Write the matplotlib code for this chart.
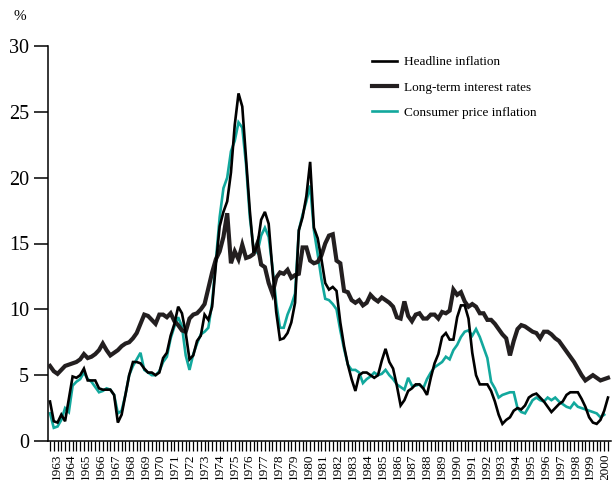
import matplotlib
matplotlib.use("Agg")
import matplotlib.pyplot as plt
import numpy as np

# Quarterly data, 1963Q1 .. 2000Q1
years = [str(y) for y in range(1963, 2001)]

long_term_rates = [
    5.7, 5.3, 5.1, 5.4, 5.7, 5.8, 5.9, 6.0, 6.2, 6.6, 6.3, 6.4, 6.6, 6.9, 7.4, 6.9,
    6.5, 6.7, 6.9, 7.2, 7.4, 7.5, 7.8, 8.2, 8.9, 9.6, 9.5, 9.2, 8.9, 9.6, 9.6, 9.4,
    9.7, 9.1, 8.8, 8.4, 8.3, 9.3, 9.6, 9.7, 10.0, 10.4, 11.6, 12.8, 13.8, 14.4, 15.5, 17.3,
    13.5, 14.4, 13.8, 14.9, 13.9, 14.0, 14.2, 15.0, 13.4, 13.2, 12.0, 11.2, 12.4, 12.8, 12.7, 13.0,
    12.4, 12.6, 12.7, 14.7, 14.7, 13.7, 13.5, 13.6, 14.1, 15.0, 15.6, 15.7, 13.7, 13.5, 11.4, 11.3,
    10.7, 10.5, 10.7, 10.3, 10.5, 11.1, 10.8, 10.6, 10.9, 10.7, 10.5, 10.2, 9.4, 9.3, 10.6, 9.5,
    9.1, 9.6, 9.7, 9.3, 9.3, 9.6, 9.6, 9.3, 9.8, 9.7, 9.9, 11.5, 11.1, 11.3, 10.6, 10.2,
    10.4, 10.2, 9.7, 9.7, 9.2, 9.2, 8.9, 8.5, 8.1, 7.8, 6.5, 7.6, 8.5, 8.8, 8.7, 8.5,
    8.3, 8.2, 7.8, 8.3, 8.3, 8.1, 7.8, 7.6, 7.2, 6.8, 6.4, 6.0, 5.5, 5.0, 4.6, 4.8,
    5.0, 4.8, 4.6, 4.7, 4.8,
]

headline_inflation = [
    3.0, 1.5, 1.4, 2.0, 1.5, 3.2, 4.9, 4.8, 5.0, 5.5, 4.6, 4.6, 4.6, 4.0, 3.9, 3.9,
    3.9, 3.5, 1.4, 2.0, 3.5, 5.0, 6.0, 6.0, 5.9, 5.5, 5.2, 5.2, 5.0, 5.2, 6.3, 6.7,
    8.0, 8.9, 10.2, 9.7, 8.2, 6.2, 6.5, 7.6, 8.0, 9.6, 9.2, 10.2, 13.4, 16.3, 17.4, 18.2,
    20.4, 24.0, 26.4, 25.4, 21.5, 17.5, 14.3, 14.8, 16.8, 17.4, 16.5, 13.0, 9.8, 7.7, 7.8, 8.2,
    9.0, 10.5, 16.0, 17.0, 18.6, 21.2, 16.2, 15.4, 13.8, 12.0, 11.5, 11.7, 11.4, 9.0, 7.2, 5.8,
    4.7, 3.8, 5.0, 5.2, 5.2, 5.0, 4.8, 5.0, 6.1, 7.0, 6.0, 5.5, 4.2, 2.7, 3.1, 3.8,
    4.0, 4.3, 4.3, 4.0, 3.5, 4.8, 5.9, 6.6, 7.9, 8.2, 7.7, 7.7, 9.4, 10.3, 10.3, 9.3,
    6.7, 5.0, 4.3, 4.3, 4.3, 3.8, 3.0, 2.0, 1.3, 1.6, 1.8, 2.3, 2.5, 2.4, 2.7, 3.3,
    3.5, 3.6, 3.3, 3.0, 2.6, 2.2, 2.5, 2.8, 3.0, 3.5, 3.7, 3.7, 3.7, 3.2, 2.6, 1.8,
    1.4, 1.3, 1.6, 2.3, 3.3,
]

consumer_price_inflation = [
    2.1, 1.0, 1.1, 1.6, 2.5, 2.2, 4.2, 4.5, 4.7, 5.2, 4.7, 4.5, 4.1, 3.7, 3.8, 4.0,
    3.9, 3.5, 2.1, 2.3, 3.5, 5.0, 5.7, 6.2, 6.7, 5.4, 5.2, 5.0, 5.0, 5.3, 6.0, 6.4,
    7.8, 8.7, 9.4, 8.7, 6.5, 5.4, 6.6, 7.4, 8.1, 8.3, 8.6, 10.5, 13.7, 17.0, 19.2, 20.0,
    22.0, 22.8, 24.2, 23.8, 21.0, 17.0, 14.6, 14.3, 15.6, 16.2, 15.5, 13.2, 10.5, 8.6, 8.6, 9.6,
    10.3, 11.2, 16.0, 17.2, 18.2, 19.4, 16.0, 14.2, 12.3, 10.8, 10.7, 10.4, 10.0, 8.4, 7.0, 5.8,
    5.4, 5.4, 5.2, 4.4, 4.7, 4.9, 5.2, 5.0, 5.1, 5.4, 5.0, 4.7, 4.3, 4.1, 3.9, 4.8,
    4.2, 4.2, 4.3, 4.0, 4.7, 5.2, 5.6, 5.8, 6.0, 6.4, 6.2, 6.9, 7.3, 7.9, 8.3, 8.4,
    8.0, 8.5, 7.9, 7.1, 6.3, 4.5, 4.0, 3.3, 3.5, 3.6, 3.7, 3.7, 2.5, 2.2, 2.1, 2.6,
    3.1, 3.3, 3.1, 3.0, 3.3, 3.1, 3.3, 3.0, 2.8, 2.6, 2.5, 2.9, 2.6, 2.5, 2.4, 2.3,
    2.2, 2.1, 1.8, 2.0,
]

series_labels = ["Headline inflation", "Long-term interest rates", "Consumer price inflation"]

plt.rcParams["font.family"] = ["Liberation Serif", "DejaVu Serif"]

fig = plt.figure(figsize=(6.12, 4.8), dpi=100)
ax = fig.add_axes([48 / 612, 39 / 480, 563 / 612, 395 / 480])

teal = "#12a89d"
dark = "#231f20"

q_lt = np.arange(len(long_term_rates))
q_hl = np.arange(len(headline_inflation))
q_cp = np.arange(len(consumer_price_inflation))

l_cp, = ax.plot(q_cp, consumer_price_inflation, color=teal, lw=1.9, solid_joinstyle="miter", zorder=2)
l_lt, = ax.plot(q_lt, long_term_rates, color=dark, lw=3.0, solid_joinstyle="miter", zorder=3)
l_hl, = ax.plot(q_hl, headline_inflation, color="black", lw=1.9, solid_joinstyle="miter", zorder=4)

ax.set_xlim(-0.53, 148.8)
ax.set_ylim(0, 30)

for s in ["top", "right"]:
    ax.spines[s].set_visible(False)
ax.spines["left"].set_linewidth(1.1)
ax.spines["bottom"].set_linewidth(1.1)

ax.set_yticks(np.arange(0, 31, 5))
ax.tick_params(axis="y", length=10, width=1.1, pad=3.5, labelsize=14.5, direction="out")

# quarterly minor ticks, year labels
ax.set_xticks(np.arange(0, len(headline_inflation)), minor=True)
ax.tick_params(axis="x", which="minor", length=7, width=0.9, direction="out")
label_pos = np.linspace(1.7, 147.2, len(years))
ax.set_xticks(label_pos)
ax.set_xticklabels(years, rotation=90, fontsize=9.5)
ax.tick_params(axis="x", which="major", length=0, pad=9)

fig.text(20 / 612, 1 - 16 / 480, "%", fontsize=11, ha="center", va="center")

leg = ax.legend([l_hl, l_lt, l_cp], series_labels, loc="upper left",
                bbox_to_anchor=(369 / 612, 1 - 53.5 / 480), bbox_transform=fig.transFigure,
                frameon=False, fontsize=9.5, handlelength=1.9, handletextpad=0.55,
                labelspacing=0.98, borderaxespad=0, borderpad=0.2)

fig.savefig("out.png", dpi=100)
